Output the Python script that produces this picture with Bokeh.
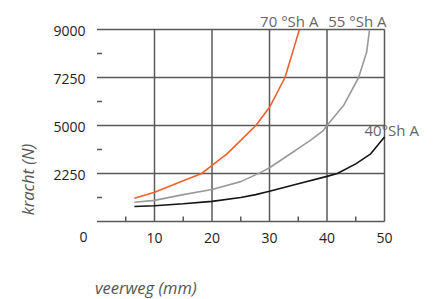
import numpy as np
from bokeh.plotting import figure
from bokeh.models import Range1d
from bokeh.embed import file_html
from bokeh.resources import INLINE

# y axis tick values (N), drawn at equal spacing
y_tick_values = [0, 2250, 5000, 7250, 9000]
y_tick_labels = ["2250", "5000", "7250", "9000"]
x_ticks = [10, 20, 30, 40, 50]
x_tick_labels = ["10", "20", "30", "40", "50"]
x_minor = [5, 15, 25, 35, 45]

# 70 °Sh A (orange)
x70 = [6.5, 10, 15, 18.2, 20, 22.6, 25, 27.7, 30, 32.7, 34.1, 35.2]
f70 = [1090, 1373, 1913, 2250, 2709, 3378, 4148, 5023, 5855, 7250, 8230, 9000]
# 55 °Sh A (gray)
x55 = [6.5, 10, 15, 20, 25, 28.4, 30, 34.5, 37.1, 39.4, 40, 42.9, 45.5, 46.9, 47.4]
f55 = [900, 990, 1260, 1500, 1870, 2300, 2580, 3570, 4150, 4725, 5000, 5945, 7250, 8178, 9000]
# 40 °Sh A (black)
x40 = [6.5, 10, 15, 20, 25, 27.6, 30, 35, 40, 41.8, 45, 47.6, 50]
f40 = [700, 740, 830, 945, 1125, 1260, 1418, 1766, 2115, 2250, 2800, 3378, 4340]

pos = np.arange(len(y_tick_values), dtype=float)
def to_pos(vals):
    return np.interp(vals, y_tick_values, pos)

y_grid = to_pos(y_tick_values[1:])
y_minor = (pos[:-1] + pos[1:]) / 2
x0, x1 = 0, x_ticks[-1]
y0, y1 = pos[0], pos[-1]

FONT = "Open Sans"
GRID = "#5a5a5a"
TICK_TXT = "#222222"
ANN_TXT = "#666666"

W, H = 434, 299
# pixel placement of the data origin and scale
ox, oy, sx, sy = 96.5, 221.0, 5.75, 48.0

p = figure(output_backend="svg", toolbar_location=None,
           frame_width=W, frame_height=H,
           min_border_left=0, min_border_right=0, min_border_top=0, min_border_bottom=0,
           x_range=Range1d(-ox / sx, (W - ox) / sx),
           y_range=Range1d(-(H - oy) / sy, oy / sy),
           x_axis_type=None, y_axis_type=None)
p.outline_line_color = None
p.background_fill_color = "white"
p.border_fill_color = "white"

# grid lines
p.segment(x0=x_ticks, y0=[y0] * len(x_ticks), x1=x_ticks, y1=[y1] * len(x_ticks),
          line_color=GRID, line_width=1.5)
p.segment(x0=[x0] * len(y_grid), y0=y_grid, x1=[x1] * len(y_grid), y1=y_grid,
          line_color=GRID, line_width=1.5)
# x axis line
p.segment(x0=[x0], y0=[y0], x1=[x1], y1=[y0], line_color=GRID, line_width=1.5)
# minor ticks
p.ray(x=x_minor, y=[y0] * len(x_minor), length=5, length_units="screen",
      angle=np.pi / 2, line_color=GRID, line_width=1.5)
p.ray(x=[x0] * len(y_minor), y=y_minor, length=5, length_units="screen",
      angle=0, line_color=GRID, line_width=1.5)

# tick labels
p.text(x=x_ticks, y=[y0] * len(x_ticks), text=x_tick_labels, text_align="center",
       text_baseline="middle", y_offset=16, text_font={"value": FONT},
       text_font_size="14px", text_color=TICK_TXT)
p.text(x=[x0] * len(y_grid), y=y_grid, text=y_tick_labels, text_align="right",
       text_baseline="middle", x_offset=-11.5, y_offset=1, text_font={"value": FONT},
       text_font_size="14px", text_color=TICK_TXT)
p.text(x=[x0], y=[y0], text=["0"], text_align="right", text_baseline="middle",
       x_offset=-9.5, y_offset=15, text_font={"value": FONT},
       text_font_size="14px", text_color=TICK_TXT)

# axis titles
p.text(x=[x0], y=[y0], text=["veerweg (mm)"], text_align="left", text_baseline="middle",
       x_offset=-2, y_offset=66, text_font={"value": FONT}, text_font_style="italic",
       text_font_size="16.5px", text_color="#555555")
p.text(x=[x0], y=[y0], text=["kracht (N)"], text_align="center", text_baseline="middle",
       angle=np.pi / 2, x_offset=-69.5, y_offset=-42, text_font={"value": FONT},
       text_font_style="italic", text_font_size="16.5px", text_color="#555555")

# curves
p.line(x40, to_pos(f40), line_color="#151515", line_width=1.6)
p.line(x55, to_pos(f55), line_color="#9a9a9a", line_width=1.6)
p.line(x70, to_pos(f70), line_color="#f0602a", line_width=1.6)

# curve labels
p.text(x=[x70[-1], x55[-1]], y=[y1, y1], text=["70 °Sh A", "55 °Sh A"],
       text_align="right", text_baseline="middle", x_offset=[19, 17], y_offset=-8.5,
       text_font={"value": FONT}, text_font_size="15px", text_color=ANN_TXT)
p.text(x=[x40[-1]], y=[to_pos(f40)[-1]], text=["40°Sh A"], text_align="left",
       text_baseline="middle", x_offset=-20, y_offset=-7,
       text_font={"value": FONT}, text_font_size="15px", text_color=ANN_TXT)

open("out.html", "w").write(file_html(p, INLINE))
